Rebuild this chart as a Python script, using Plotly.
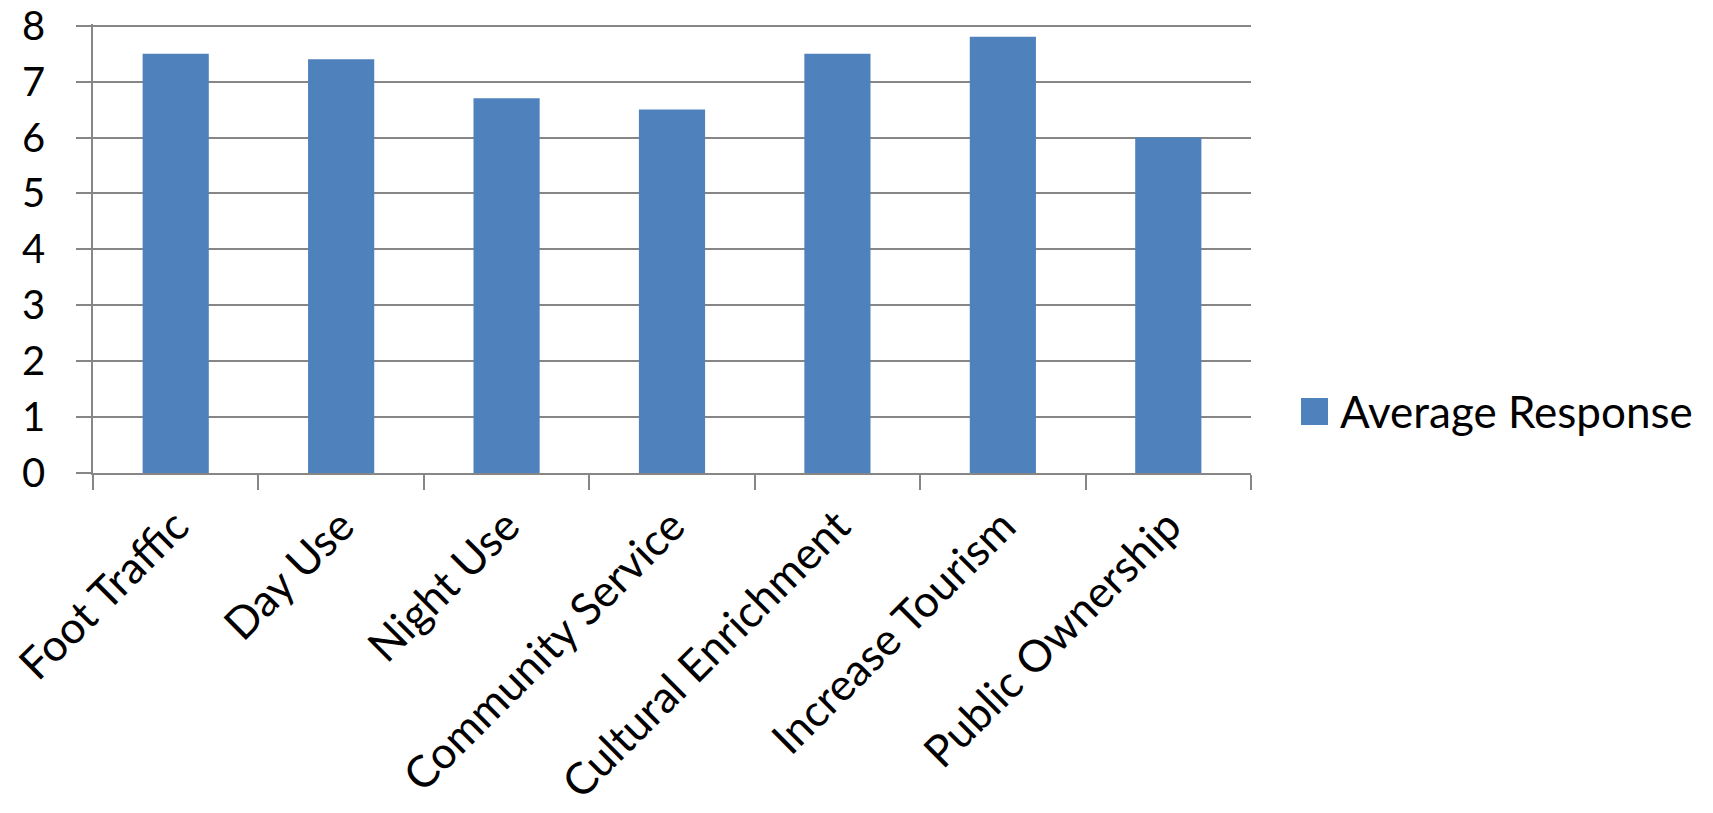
import plotly.graph_objects as go

categories = ["Foot Traffic", "Day Use", "Night Use", "Community Service",
              "Cultural Enrichment", "Increase Tourism", "Public Ownership"]
series_name = "Average Response"
values = [7.5, 7.4, 6.7, 6.5, 7.5, 7.8, 6.0]
y_ticks = [0, 1, 2, 3, 4, 5, 6, 7, 8]

BAR = "#4F81BD"
GRID = "#868686"
FONT = "Lato, Carlito, Calibri, sans-serif"
FS = 44
FS_Y = 40

W, H = 1713, 813
L, R, T, B = 93, 1251, 24, 473

fig = go.Figure()
fig.add_trace(go.Bar(x=categories, y=values, name=series_name,
                     marker=dict(color=BAR, line=dict(width=0)),
                     showlegend=False))

fig.update_layout(
    width=W, height=H,
    margin=dict(l=L, r=W - R, t=T, b=H - B, autoexpand=False),
    paper_bgcolor="white", plot_bgcolor="white",
    bargap=0.6,
    font=dict(family=FONT, size=FS, color="black"),
    xaxis=dict(
        type="category",
        tickangle=-45,
        tickson="boundaries",
        ticks="outside", ticklen=15, tickcolor=GRID, tickwidth=1.5,
        showline=True, linecolor=GRID, linewidth=1.5,
        showgrid=False,
        ticklabelstandoff=8,
        tickfont=dict(size=FS, family=FONT, color="black"),
    ),
    yaxis=dict(
        range=[0, 8.03],
        tickvals=y_ticks,
        ticks="outside", ticklen=15, tickcolor=GRID, tickwidth=1.5,
        showline=True, linecolor=GRID, linewidth=1.5,
        showgrid=True, gridcolor=GRID, gridwidth=1.5,
        zeroline=False,
        ticklabelstandoff=23,
        ticklabeloverflow="allow",
        tickfont=dict(size=FS_Y, family=FONT, color="black"),
    ),
)

# legend drawn as a swatch + label
fig.add_shape(type="rect", xref="paper", yref="paper",
              x0=(1301 - L) / (R - L), x1=(1328 - L) / (R - L),
              y0=(B - 425) / (B - T), y1=(B - 398) / (B - T),
              fillcolor=BAR, line=dict(width=0))
fig.add_annotation(text=series_name, xref="paper", yref="paper",
                   x=(1338 - L) / (R - L), y=(B - 411) / (B - T),
                   xanchor="left", yanchor="middle", showarrow=False,
                   font=dict(size=FS, family=FONT, color="black"))

fig.write_html("out.html", config={"displayModeBar": False},
               post_script="document.body.style.margin='0';document.body.style.overflow='hidden';")
